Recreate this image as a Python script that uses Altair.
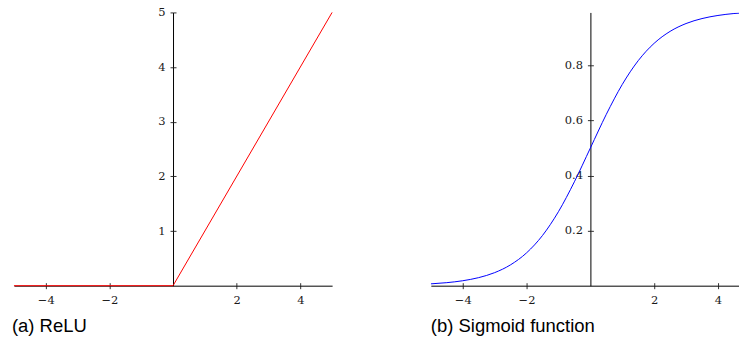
import altair as alt
import pandas as pd

# ReLU
relu_x = [-5, 0, 5]
relu_y = [0, 0, 5]

# Sigmoid
sig_x = [-5, -4.5, -4, -3.5, -3, -2.5, -2, -1.5, -1, -0.5, 0,
         0.5, 1, 1.5, 2, 2.5, 3, 3.5, 4, 4.5, 5]
sig_y = [0.0067, 0.0110, 0.0180, 0.0293, 0.0474, 0.0759, 0.1192, 0.1824,
         0.2689, 0.3775, 0.5, 0.6225, 0.7311, 0.8176, 0.8808, 0.9241,
         0.9526, 0.9707, 0.9820, 0.9890, 0.9933]

x_ticks = [-4, -2, 2, 4]
relu_y_ticks = [1, 2, 3, 4, 5]
sig_y_ticks = [0.2, 0.4, 0.6, 0.8]

relu_df = pd.DataFrame({"x": relu_x, "y": relu_y})
sig_df = pd.DataFrame({"x": sig_x, "y": sig_y})

W1, W2, H = 319, 309, 274
X0_1, X0_2 = 159.5, 160  # pixel position of x=0 within each panel

axis_common = dict(
    grid=False,
    domainColor="#000000",
    domainWidth=1,
    tickColor="#333333",
    tickSize=3,
    labelFont="DejaVu Serif",
    labelFontSize=11.5,
    labelColor="#1a1a1a",
    title=None,
    zindex=0,
)
ghost_axis = dict(grid=False, domain=False, labels=False, tickColor="#333333",
                  tickSize=3, title=None, zindex=0)


def caption(text):
    return alt.TitleParams(
        text, orient="bottom", anchor="start", font="Liberation Sans",
        fontSize=18.5, fontWeight="normal", color="#000000", offset=11,
    )


def panel(df, color, xdom, ydom, yticks, x0, w, yfmt, title, interp, clip):
    xs = alt.Scale(domain=xdom, nice=False, zero=False)
    ys = alt.Scale(domain=ydom, nice=False)
    ghost = alt.Chart(df).mark_line(strokeOpacity=0, clip=True).encode(
        x=alt.X("x:Q", scale=xs,
                axis=alt.Axis(values=x_ticks, orient="top", offset=-H,
                              **ghost_axis)),
        y=alt.Y("y:Q", scale=ys,
                axis=alt.Axis(values=yticks, orient="right", offset=x0 - w,
                              **ghost_axis)),
    )
    main = alt.Chart(df).mark_line(
        color=color, strokeWidth=1, interpolate=interp, clip=clip
    ).encode(
        x=alt.X("x:Q", scale=xs,
                axis=alt.Axis(values=x_ticks, labelPadding=6, **axis_common)),
        y=alt.Y("y:Q", scale=ys,
                axis=alt.Axis(values=yticks, offset=-x0, labelPadding=5,
                              format=yfmt, **axis_common)),
    )
    return alt.layer(main, ghost, title=caption(title)).resolve_axis(
        x="independent", y="independent"
    ).properties(width=w, height=H)


left = panel(relu_df, "#ff0000", [-5, 5], [0, 5], relu_y_ticks, X0_1, W1,
             "d", "(a) ReLU", "linear", False)
right = panel(sig_df, "#0000ff", [-5, 4.66], [0, 0.993], sig_y_ticks, X0_2, W2,
              ".1f", "(b) Sigmoid function", "monotone", True)

chart = alt.hconcat(left, right, spacing=99, bounds="flush").properties(
    padding={"left": 12, "top": 6, "right": 0, "bottom": 5},
    background="white",
).configure_view(strokeWidth=0, stroke="transparent")

chart.save("out.html", embed_options={"renderer": "svg", "actions": False})
